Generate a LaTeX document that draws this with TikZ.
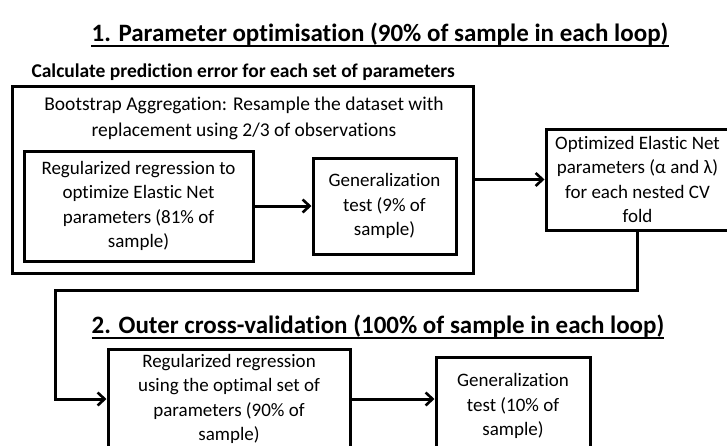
\documentclass[tikz,border=0pt]{standalone}
\usepackage{fontspec}
\setmainfont{Carlito}[Ligatures=NoCommon]
\usetikzlibrary{arrows.meta}
\tikzset{
  box/.style={draw, line width=3pt, align=center, inner sep=0pt,
    font=\fontsize{19}{24.5}\selectfont},
  link/.style={line width=3pt, -{Straight Barb[length=7pt,width=13pt,line width=2.6pt]}},
  heading/.style={inner sep=0pt, font=\fontsize{25}{28}\selectfont\bfseries},
  underrule/.style={line width=2pt},
  subheading/.style={font=\fontsize{19.5}{22}\selectfont\bfseries}
}
\begin{document}
\begin{tikzpicture}[x=1pt,y=-1pt]
  \useasboundingbox (0,0) rectangle (727,445);
  \clip (0,0) rectangle (727,445);

  % stage 1: parameter optimisation
  \node[heading] (t1) at (380,34) {1. Parameter optimisation (90\% of sample in each loop)};
  \path (t1.base west) ++(0,5) coordinate (u1a);
  \path (t1.base east) ++(0,5) coordinate (u1b);
  \draw[underrule] (u1a) -- (u1b);
  \node[subheading, anchor=west] (calc) at (28,72) {Calculate prediction error for each set of parameters};

  \node[box, minimum width=461pt, minimum height=187pt] (outer) at (242.5,179.5) {};
  \node[font=\fontsize{19.5}{26}\selectfont, align=center] (boot) at (244,118)
    {Bootstrap Aggregation: Resample the dataset with\\replacement using 2/3 of observations};
  \node[box, minimum width=229pt, minimum height=110pt] (reg1) at (138.5,206)
    {Regularized regression to\\optimize Elastic Net\\parameters (81\% of\\sample)};
  \node[box, minimum width=143pt, minimum height=96pt] (gen1) at (384.5,206)
    {Generalization\\test (9\% of\\sample)};
  \node[box, minimum width=183pt, minimum height=101pt] (opt) at (637.5,179.5)
    {Optimized Elastic Net\\parameters (α and λ)\\for each nested CV\\fold};

  \draw[link] (reg1) -- (gen1);
  \draw[link] (outer) -- (opt);

  % stage 2: outer cross-validation
  \node[heading] (t2) at (378,326) {2. Outer cross-validation (100\% of sample in each loop)};
  \path (t2.base west) ++(0,5) coordinate (u2a);
  \path (t2.base east) ++(0,5) coordinate (u2b);
  \draw[underrule] (u2a) -- (u2b);
  \node[box, minimum width=242pt, minimum height=100pt] (reg2) at (229,399)
    {Regularized regression\\using the optimal set of\\parameters (90\% of\\sample)};
  \node[box, minimum width=154pt, minimum height=98pt] (gen2) at (513,406)
    {Generalization\\test (10\% of\\sample)};

  \coordinate (turn) at (55,290);
  \draw[link] (opt.south) |- (turn) |- (reg2.west);
  \draw[link] (reg2.east) -- (reg2.east -| gen2.west);
\end{tikzpicture}
\end{document}
